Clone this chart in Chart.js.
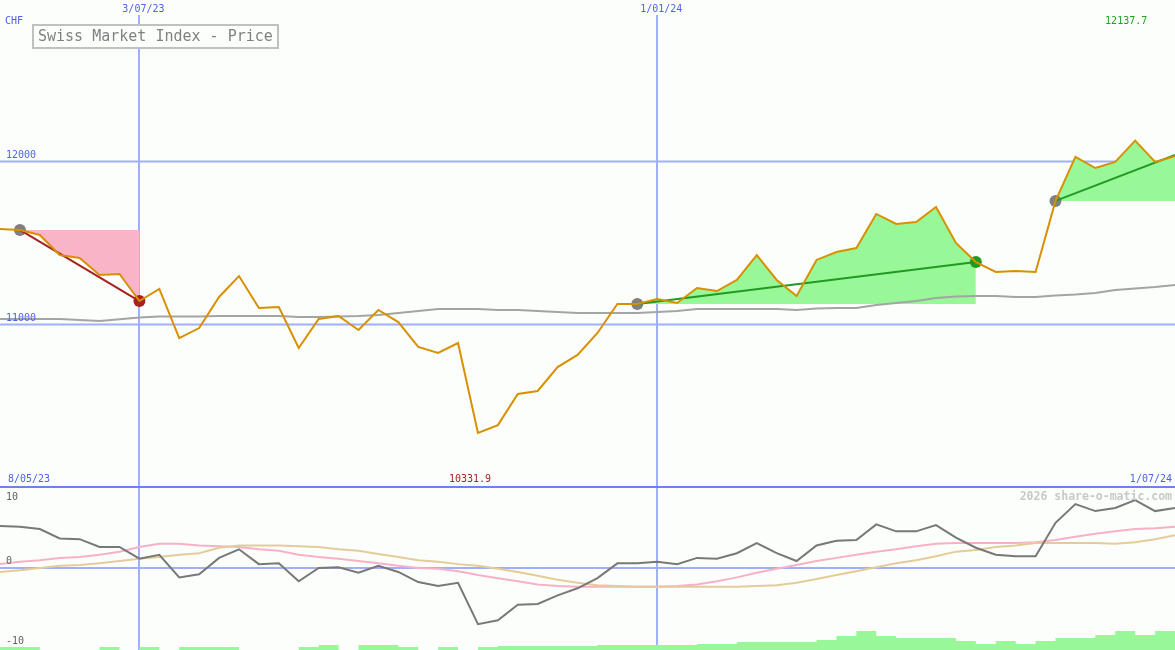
<!DOCTYPE html>
<html>
<head>
<meta charset="utf-8">
<title>Swiss Market Index - Price</title>
<script src="https://cdn.jsdelivr.net/npm/chart.js@4.4.1/dist/chart.umd.min.js"></script>
<style>
  html, body { margin: 0; padding: 0; background: #fcfefc; }
  #wrap { width: 1175px; height: 650px; overflow: hidden; }
  canvas { display: block; }
</style>
</head>
<body>
<div id="wrap">
  <canvas id="priceChart" width="1175" height="488"></canvas>
  <canvas id="oscChart" width="1175" height="162"></canvas>
</div>
<script>
// weekly closes, Monday 15 May 2023 -> Monday 1 Jul 2024
const weekLabels = [];
for (let i = 0; i < 60; i++) {
  const d = new Date(2023, 4, 15 + 7 * i);
  weekLabels.push(d.getDate() + '/' + String(d.getMonth() + 1).padStart(2, '0') + '/' + String(d.getFullYear()).slice(2));
}
const markedWeeks = ['3/07/23', '1/01/24'];
const startLabel = '8/05/23';
const endLabel = '1/07/24';
const highLabel = '12137.7';
const lowLabel = '10331.9';

const price = [
  11583, 11577, 11546, 11423, 11405, 11301, 11307, 11141, 11215, 10914,
  10975, 11166, 11294, 11098, 11104, 10853, 11031, 11049, 10963, 11086,
  11012, 10859, 10822, 10883, 10331.9, 10380, 10571, 10589, 10736, 10810,
  10945, 11123, 11123, 11153, 11129, 11221, 11202, 11270, 11423, 11270,
  11172, 11393, 11442, 11466, 11675, 11614, 11626, 11718, 11497, 11380,
  11319, 11325, 11319, 11755, 12025, 11957, 11994, 12125, 11994, 12030
];
const slowAverage = [
  11031, 11031, 11031, 11031, 11025, 11018, 11029, 11040, 11046, 11046,
  11046, 11049, 11049, 11049, 11049, 11043, 11043, 11046, 11049, 11055,
  11067, 11080, 11092, 11092, 11092, 11086, 11086, 11080, 11074, 11067,
  11067, 11067, 11067, 11074, 11080, 11092, 11092, 11092, 11092, 11092,
  11086, 11095, 11098, 11098, 11117, 11129, 11141, 11160, 11169, 11172,
  11172, 11166, 11166, 11175, 11181, 11190, 11209, 11218, 11227, 11239
];
const priceLevels = [11000, 12000];

// trend segments: start week, end week, value at the end
const trendStart = [1, 32, 53];
const trendStop = [7, 49, 59];
const trendStopValue = [11141, 11380, 12037];

// lower panel
const momentum = [
  5.4, 5.3, 5.0, 3.8, 3.7, 2.7, 2.7, 1.2, 1.7, -1.2,
  -0.8, 1.3, 2.4, 0.5, 0.6, -1.7, 0, 0.1, -0.6, 0.3,
  -0.5, -1.8, -2.3, -1.9, -7.2, -6.7, -4.7, -4.6, -3.5, -2.6,
  -1.3, 0.6, 0.6, 0.8, 0.5, 1.3, 1.2, 1.9, 3.2, 1.9,
  0.9, 2.9, 3.5, 3.6, 5.6, 4.7, 4.7, 5.5, 3.9, 2.6,
  1.7, 1.5, 1.5, 5.8, 8.2, 7.3, 7.7, 8.7, 7.3, 7.7
];
const signalFast = [
  0.5, 0.8, 1.0, 1.3, 1.4, 1.7, 2.1, 2.7, 3.1, 3.1,
  2.9, 2.8, 2.7, 2.4, 2.2, 1.7, 1.4, 1.2, 0.9, 0.6,
  0.3, 0, -0.1, -0.4, -0.9, -1.3, -1.7, -2.1, -2.3, -2.4,
  -2.4, -2.4, -2.4, -2.4, -2.3, -2.1, -1.7, -1.2, -0.6, -0.1,
  0.4, 0.9, 1.3, 1.7, 2.1, 2.4, 2.8, 3.1, 3.2, 3.2,
  3.2, 3.2, 3.3, 3.6, 4.0, 4.4, 4.7, 5.0, 5.1, 5.3
];
const signalSlow = [
  -0.5, -0.3, 0, 0.3, 0.4, 0.6, 0.9, 1.2, 1.4, 1.7,
  1.9, 2.6, 2.9, 2.9, 2.9, 2.8, 2.7, 2.4, 2.2, 1.8,
  1.4, 1.0, 0.8, 0.5, 0.3, -0.1, -0.5, -1.0, -1.5, -1.9,
  -2.2, -2.3, -2.4, -2.4, -2.4, -2.4, -2.4, -2.4, -2.3, -2.2,
  -1.9, -1.4, -0.9, -0.4, 0.1, 0.6, 1.0, 1.5, 2.1, 2.3,
  2.7, 2.9, 3.2, 3.2, 3.2, 3.2, 3.1, 3.3, 3.7, 4.2
];
const volume = [
  3, 3, 0, 0, 0, 3, 0, 3, 0, 3,
  3, 3, 0, 0, 0, 3, 5, 0, 5, 5,
  3, 0, 3, 0, 3, 4, 4, 4, 4, 4,
  5, 5, 5, 5, 5, 6, 6, 8, 8, 8,
  8, 10, 14, 19, 14, 12, 12, 12, 9, 6,
  9, 6, 9, 12, 12, 15, 19, 15, 19, 19
];
const oscLevels = [10, 0, -10];

const BLUE_TEXT = '#5060f0';
const GRID = '#a0b0f8';
const MONO = '"DejaVu Sans Mono", monospace';
const trendColors = ['#a82020', '#229922', '#229922'];
const fillColors = ['#fab4c8', '#98f898', '#98f898'];

const blank = () => price.map(() => null);

const datasets = [];
datasets.push({
  data: price, borderColor: '#d89000', borderWidth: 2, pointRadius: 0, order: 0, tension: 0
});
trendStart.forEach((s, k) => {
  const line = blank();
  line[s] = price[s];
  line[trendStop[k]] = trendStopValue[k];
  datasets.push({
    data: line, borderColor: trendColors[k], borderWidth: 2, pointRadius: 0, spanGaps: true, order: 1
  });
  const area = price.map((v, i) => (i >= s && i <= trendStop[k] ? v : null));
  datasets.push({
    data: area, borderWidth: 0, pointRadius: 0, backgroundColor: fillColors[k],
    fill: { value: price[s] }, order: 5
  });
  const dots = blank();
  dots[s] = price[s];
  const colors = blank().map(() => '#808080');
  if (trendStop[k] < price.length - 1) {
    dots[trendStop[k]] = trendStopValue[k];
    colors[trendStop[k]] = trendColors[k];
  }
  datasets.push({
    data: dots, showLine: false, pointRadius: 6, pointBorderWidth: 0,
    pointBackgroundColor: colors, order: 2
  });
});
datasets.push({
  data: slowAverage, borderColor: '#a4a4a4', borderWidth: 2, pointRadius: 0, order: 4
});

const priceFrame = {
  id: 'priceFrame',
  beforeDatasetsDraw(chart) {
    const { ctx, chartArea, scales: { x, y } } = chart;
    ctx.save();
    ctx.lineWidth = 2;
    ctx.strokeStyle = GRID;
    priceLevels.forEach(v => {
      const py = Math.round(y.getPixelForValue(v)) + 0.5;
      ctx.beginPath(); ctx.moveTo(chartArea.left, py); ctx.lineTo(chartArea.right, py); ctx.stroke();
    });
    markedWeeks.forEach(lbl => {
      const px = Math.round(x.getPixelForValue(weekLabels.indexOf(lbl)));
      ctx.beginPath(); ctx.moveTo(px, 15); ctx.lineTo(px, chartArea.bottom); ctx.stroke();
    });
    ctx.strokeStyle = '#7080f0';
    const base = Math.round(y.getPixelForValue(10000));
    ctx.beginPath(); ctx.moveTo(chartArea.left, base); ctx.lineTo(chartArea.right, base); ctx.stroke();
    ctx.restore();
  },
  afterDraw(chart) {
    const { ctx, chartArea, scales: { x, y } } = chart;
    ctx.save();
    ctx.font = '10px ' + MONO;
    ctx.textBaseline = 'top';
    ctx.fillStyle = BLUE_TEXT;
    ctx.textAlign = 'left';
    ctx.fillText('CHF', 5, 16);
    ctx.fillText(startLabel, 8, 474);
    ctx.textAlign = 'center';
    markedWeeks.forEach(lbl => {
      ctx.fillText(lbl, x.getPixelForValue(weekLabels.indexOf(lbl)) + 4, 4);
    });
    ctx.textAlign = 'right';
    ctx.fillText(endLabel, chartArea.right - 3, 474);
    ctx.textAlign = 'left';
    ctx.textBaseline = 'bottom';
    priceLevels.forEach(v => {
      ctx.fillText(String(v), 6, y.getPixelForValue(v) - 1);
    });
    // extremes
    ctx.textBaseline = 'top';
    ctx.textAlign = 'center';
    const hi = price.indexOf(Math.max(...price));
    const lo = price.indexOf(Math.min(...price));
    ctx.fillStyle = '#20a020';
    ctx.fillText(highLabel, x.getPixelForValue(hi) - 9, 16);
    ctx.fillStyle = '#b02020';
    ctx.fillText(lowLabel, x.getPixelForValue(lo) - 8, 474);
    // title box
    ctx.fillStyle = '#fcfefc';
    ctx.fillRect(33, 25, 245, 23);
    ctx.strokeStyle = '#c0c0c0';
    ctx.lineWidth = 2;
    ctx.strokeRect(33, 25, 245, 23);
    ctx.fillStyle = '#808080';
    ctx.font = '15px ' + MONO;
    ctx.textAlign = 'left';
    ctx.textBaseline = 'middle';
    ctx.fillText('Swiss Market Index - Price', 38, 37);
    ctx.restore();
  }
};

new Chart(document.getElementById('priceChart'), {
  type: 'line',
  data: { labels: weekLabels, datasets },
  options: {
    responsive: false,
    animation: false,
    layout: { padding: 0, autoPadding: false },
    plugins: { legend: { display: false }, tooltip: { enabled: false } },
    scales: {
      x: { display: false, offset: false },
      y: { display: false, min: 9993.9, max: 12987.7 }
    }
  },
  plugins: [priceFrame]
});

const oscFrame = {
  id: 'oscFrame',
  beforeDatasetsDraw(chart) {
    const { ctx, chartArea, scales: { x, y } } = chart;
    ctx.save();
    ctx.lineWidth = 2;
    ctx.strokeStyle = GRID;
    const zero = Math.round(y.getPixelForValue(0));
    ctx.beginPath(); ctx.moveTo(chartArea.left, zero); ctx.lineTo(chartArea.right, zero); ctx.stroke();
    markedWeeks.forEach(lbl => {
      const px = Math.round(x.getPixelForValue(weekLabels.indexOf(lbl)));
      ctx.beginPath(); ctx.moveTo(px, chartArea.top); ctx.lineTo(px, chartArea.bottom); ctx.stroke();
    });
    ctx.restore();
  },
  afterDraw(chart) {
    const { ctx, chartArea, scales: { y } } = chart;
    ctx.save();
    ctx.font = '10px ' + MONO;
    ctx.fillStyle = '#606060';
    ctx.textAlign = 'left';
    oscLevels.forEach(v => {
      const py = y.getPixelForValue(v);
      if (v > 0) { ctx.textBaseline = 'top'; ctx.fillText(String(v), 6, py + 2); }
      else { ctx.textBaseline = 'bottom'; ctx.fillText(String(v), 6, py - (v === 0 ? 2 : 0)); }
    });
    ctx.font = 'bold 11.5px ' + MONO;
    ctx.fillStyle = '#c8c8c8';
    ctx.textAlign = 'right';
    ctx.textBaseline = 'top';
    ctx.fillText('2026 share-o-matic.com', chartArea.right - 3, 3);
    ctx.restore();
  }
};

new Chart(document.getElementById('oscChart'), {
  type: 'line',
  data: {
    labels: weekLabels,
    datasets: [
      { data: momentum, borderColor: '#787878', borderWidth: 2, pointRadius: 0, order: 0 },
      { data: signalSlow, borderColor: '#e4cc98', borderWidth: 2, pointRadius: 0, order: 1 },
      { data: signalFast, borderColor: '#f8b0c8', borderWidth: 2, pointRadius: 0, order: 2 },
      { data: volume, yAxisID: 'vol', stepped: 'before', borderWidth: 0, pointRadius: 0,
        backgroundColor: '#98f898', fill: 'start', order: 3 }
    ]
  },
  options: {
    responsive: false,
    animation: false,
    layout: { padding: 0, autoPadding: false },
    plugins: { legend: { display: false }, tooltip: { enabled: false } },
    scales: {
      x: { display: false, offset: false },
      y: { display: false, min: -10.51, max: 10.26 },
      vol: { display: false, min: 0, max: 162 }
    }
  },
  plugins: [oscFrame]
});
</script>
</body>
</html>
